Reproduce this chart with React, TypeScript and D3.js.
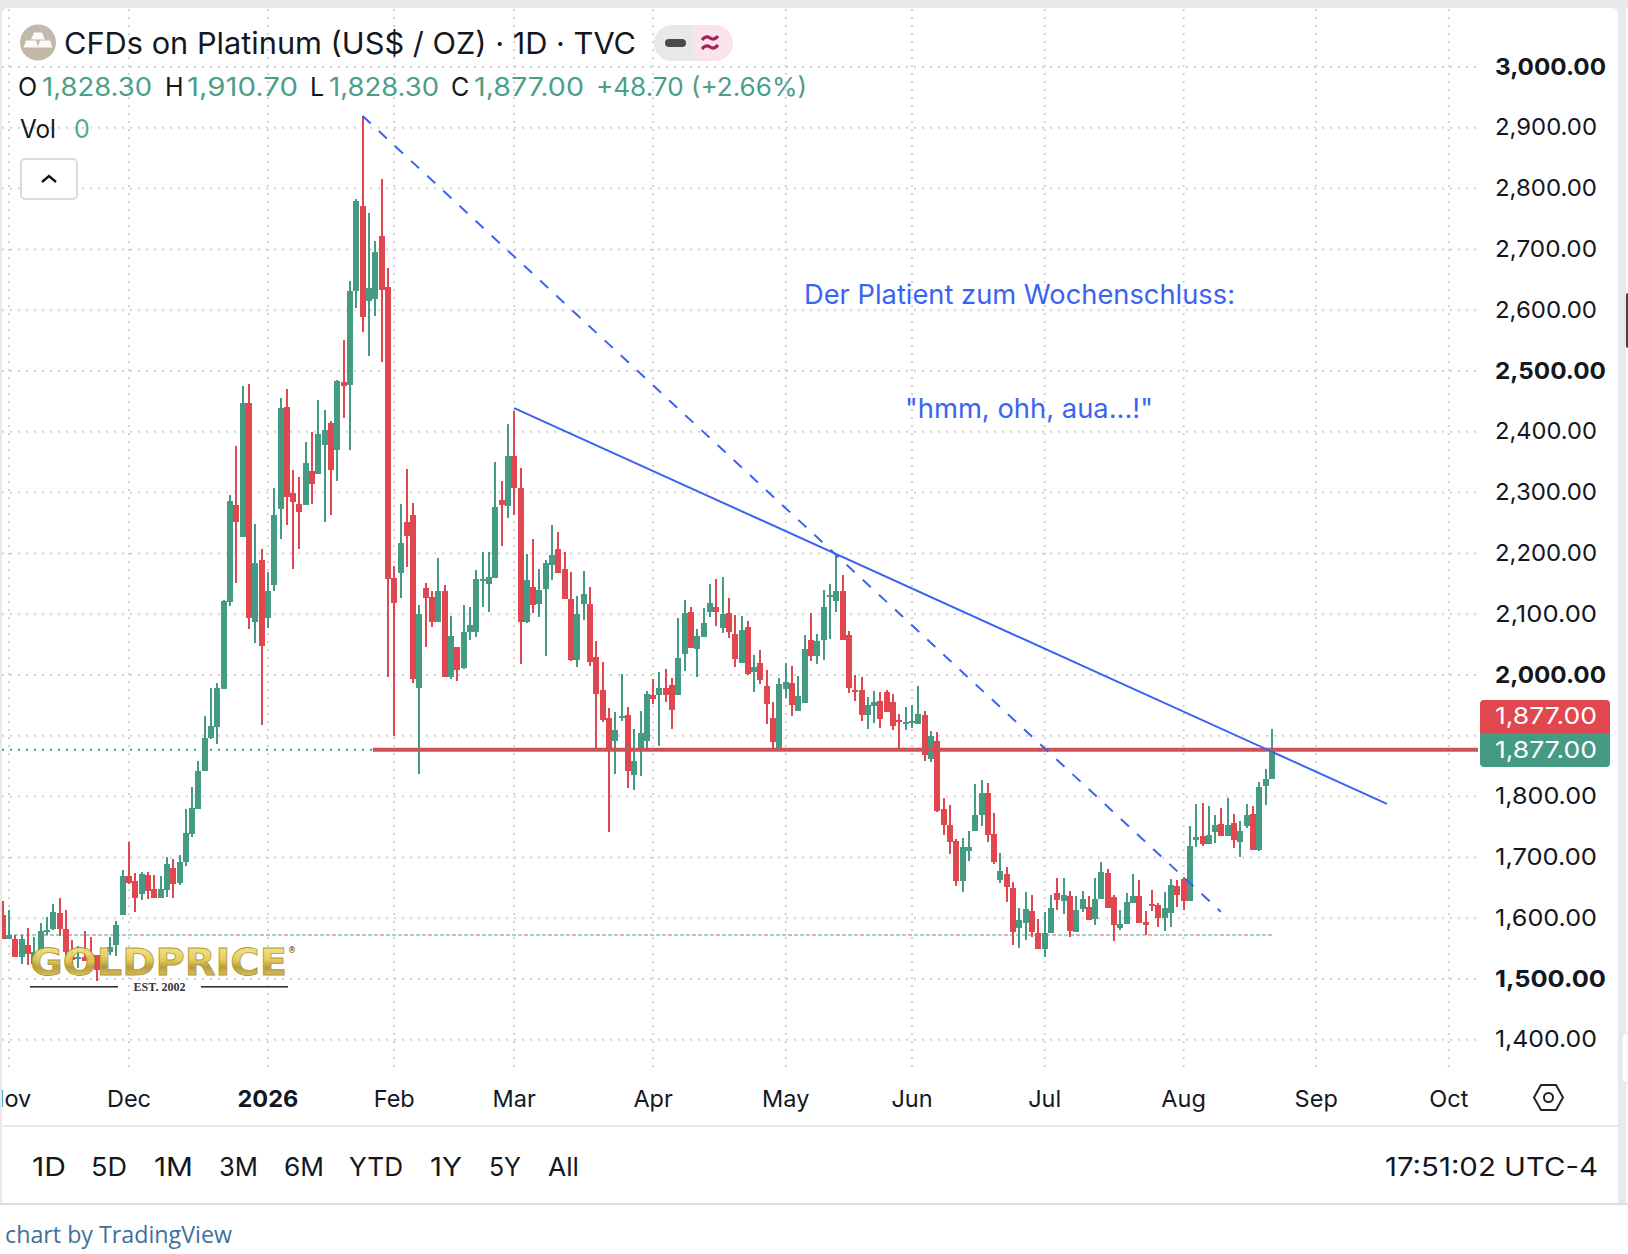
import React from "react";
import * as d3 from "d3";

const opens = [
  1605,1566,1566,1537,1556,1525,1548,1577,1582,1609,
  1582,1537,1534,1537,1540,1540,1520,1544,1556,1605,
  1669,1661,1640,1671,1648,1633,1646,1683,1658,1692,
  1738,1780,1842,1896,1915,1977,2120,2280,2227,2448,
  2087,2189,2093,2148,2273,2440,2300,2281,2280,2335,
  2331,2378,2415,2370,2482,2477,2631,2771,2615,2618,
  2722,2638,2160,2167,2252,2263,1979,2143,2128,2087,
  2138,1997,2046,2012,2071,2071,2155,2150,2160,2288,
  2278,2360,2308,2087,2145,2117,2141,2181,2207,2174,
  2125,2025,2117,2117,2030,1975,1929,1891,1929,1934,
  1836,1875,1891,1967,1967,1979,1984,1967,2035,2104,
  2043,2062,2104,2112,2077,2102,2067,2020,2079,2005,
  2020,1982,1929,1880,1977,1987,1941,1954,2058,2031,
  2058,2128,2122,2138,2066,1975,1975,1934,1949,1957,
  1972,1956,1926,1919,1922,1919,1934,1862,1891,1780,
  1753,1727,1661,1711,1743,1770,1806,1739,1663,1673,
  1650,1584,1592,1612,1576,1549,1576,1641,1628,1637,
  1577,1615,1618,1599,1632,1674,1635,1584,1590,1625,
  1637,1593,1623,1622,1600,1609,1653,1664,1628,1729,
  1735,1722,1742,1755,1735,1757,1725,1752,1771,1712,
  1818,1828.3,
];
const highs = [
  1628,1614,1572,1572,1584,1569,1592,1602,1623,1633,
  1614,1564,1554,1579,1569,1540,1548,1569,1595,1679,
  1725,1674,1676,1676,1671,1669,1701,1697,1704,1780,
  1816,1859,1933,1979,1987,2124,2296,2376,2475,2479,
  2248,2207,2169,2307,2456,2470,2337,2325,2383,2399,
  2452,2436,2418,2485,2551,2648,2783,2919,2760,2714,
  2816,2670,2179,2281,2339,2283,2115,2151,2138,2192,
  2148,2097,2046,2115,2112,2173,2202,2202,2350,2319,
  2413,2434,2340,2199,2224,2174,2189,2247,2235,2202,
  2169,2130,2171,2145,2056,2021,1946,1939,2002,1947,
  1911,1941,1974,1993,2005,2010,1995,2094,2123,2112,
  2076,2110,2150,2158,2161,2127,2099,2097,2089,2033,
  2041,2008,1956,1995,2020,2015,1998,2066,2102,2067,
  2140,2150,2197,2164,2072,2000,1997,1964,1974,1972,
  1975,1969,1936,1947,1951,1982,1941,1908,1906,1798,
  1786,1730,1732,1743,1821,1827,1822,1773,1707,1684,
  1660,1617,1643,1638,1599,1610,1638,1666,1666,1645,
  1637,1645,1637,1666,1692,1681,1638,1614,1641,1673,
  1663,1612,1646,1625,1643,1665,1663,1668,1752,1788,
  1790,1785,1770,1781,1798,1771,1760,1788,1785,1824,
  1845,1910.7,
];
const lows = [
  1566,1566,1537,1525,1523,1520,1542,1572,1581,1571,
  1537,1525,1518,1529,1531,1497,1515,1540,1538,1605,
  1657,1610,1630,1632,1633,1633,1635,1633,1655,1686,
  1734,1780,1842,1895,1887,1977,2113,2152,2227,2076,
  2053,1918,2078,2138,2224,2247,2174,2207,2280,2281,
  2331,2251,2263,2319,2423,2370,2604,2564,2525,2590,
  2515,1996,1900,2127,2178,1987,1837,2046,2079,2087,
  1997,1993,1990,2010,2058,2063,2112,2104,2160,2212,
  2258,2263,2018,2086,2102,2095,2031,2156,2167,2125,
  2023,2013,2090,2015,1877,1923,1742,1837,1924,1814,
  1811,1834,1877,1952,1883,1956,1911,1967,2007,2044,
  1997,2062,2095,2081,2069,2061,2013,2020,2000,1972,
  1985,1919,1877,1877,1962,1933,1941,1954,2023,2018,
  2025,2059,2104,2058,1970,1957,1924,1911,1921,1913,
  1939,1910,1879,1910,1913,1919,1859,1857,1775,1737,
  1706,1653,1643,1694,1743,1752,1725,1689,1658,1627,
  1556,1551,1564,1569,1549,1536,1576,1614,1607,1569,
  1577,1610,1597,1589,1632,1617,1562,1581,1590,1625,
  1592,1573,1612,1586,1579,1586,1618,1614,1628,1717,
  1719,1722,1724,1735,1735,1715,1701,1748,1712,1711,
  1786,1828.3,
];
const closes = [
  1566,1572,1537,1566,1541,1545,1579,1581,1610,1582,
  1545,1532,1537,1529,1531,1515,1537,1553,1589,1669,
  1658,1633,1673,1645,1633,1648,1689,1656,1692,1740,
  1781,1842,1896,1916,1979,2122,2286,2251,2448,2093,
  2184,2048,2138,2263,2439,2292,2284,2268,2349,2314,
  2396,2403,2337,2484,2476,2631,2779,2589,2636,2695,
  2634,2158,2119,2217,2229,1993,2100,2127,2087,2138,
  1997,2064,2008,2071,2082,2158,2158,2161,2276,2280,
  2360,2308,2087,2156,2115,2140,2184,2197,2167,2125,
  2025,2100,2133,2021,1969,1926,1877,1910,1933,1842,
  1859,1905,1969,1961,1979,1967,1942,2028,2102,2044,
  2064,2085,2118,2104,2100,2071,2026,2074,2002,2013,
  1992,1952,1890,1985,1989,1951,1965,2043,2031,2056,
  2112,2132,2138,2058,1979,1972,1934,1951,1956,1928,
  1939,1916,1923,1923,1924,1936,1868,1900,1776,1753,
  1725,1661,1717,1717,1770,1806,1737,1692,1678,1651,
  1577,1597,1615,1577,1549,1576,1617,1630,1638,1579,
  1614,1632,1597,1632,1676,1617,1589,1590,1627,1637,
  1592,1589,1620,1600,1617,1655,1638,1628,1719,1734,
  1722,1737,1753,1735,1753,1729,1743,1770,1712,1816,
  1829,1877,
];

const monthLabels = ["Nov", "Dec", "2026", "Feb", "Mar", "Apr", "May", "Jun", "Jul", "Aug", "Sep", "Oct"];
const monthIndex = [1, 20, 42, 62, 81, 103, 124, 144, 165, 187, 208, 229];
const monthBold = ["2026"];
const priceGrid = d3.range(1400, 3001, 100);
const priceLabels = [3000, 2900, 2800, 2700, 2600, 2500, 2400, 2300, 2200, 2100, 2000, 1800, 1700, 1600, 1500, 1400];
const priceBold = [3000, 2500, 2000, 1500];
const lastPrice = 1877;
const supportPrice = 1572.4;
const solidTrend = [[81, 2439], [219.2, 1788]];
const dashedTrend = [[57, 2919.4], [192.9, 1610.7]];
const ranges = ["1D", "5D", "1M", "3M", "6M", "YTD", "1Y", "5Y", "All"];
const rangeX = [32, 91, 154, 219, 284, 349, 430, 489, 548];
const rangeW = [34, 36, 39, 39, 40, 54, 32, 32, 31];

const UP = "#459A83";
const DOWN = "#E0474F";
const BLUE = "#3A63F2";
const GRID = "#D2D2D2";
const INK = "#131722";
const FONT = "Inter, 'Liberation Sans', sans-serif";

const x = d3.scaleLinear().domain([0, 201]).range([2.685, 1272]);
const y = d3.scaleLinear().domain([1500, 2000]).range([979, 675]);
const fmt = d3.format(",.2f");

function T(p: any) {
  const { x: tx, y: ty, w, size = 24, weight = 400, fill = INK, family = FONT, anchor, children } = p;
  return (
    <text x={tx} y={ty} fontSize={size} fontWeight={weight} fill={fill} fontFamily={family} textAnchor={anchor}
      {...(w ? { textLength: w, lengthAdjust: "spacingAndGlyphs" } : {})}>{children}</text>
  );
}

const line = d3.line<number[]>().x((d) => x(d[0])).y((d) => y(d[1]));

export default function App() {
  return (
    <svg width={1628} height={1254} viewBox="0 0 1628 1254"
      style={{ position: "absolute", left: 0, top: 0, display: "block", background: "#fff" }}>
      <defs>
        <linearGradient id="gold" x1="0" y1="0" x2="0" y2="1">
          <stop offset="0" stopColor="#FBF09A" />
          <stop offset="0.45" stopColor="#E3C94F" />
          <stop offset="0.62" stopColor="#B3952F" />
          <stop offset="1" stopColor="#F3E27A" />
        </linearGradient>
        <clipPath id="plot"><rect x={2} y={9} width={1476} height={1116} /></clipPath>
        <clipPath id="axisClip"><rect x={2} y={1070} width={1480} height={50} /></clipPath>
      </defs>

      {/* frame */}
      <rect x={0} y={0} width={1628} height={8} fill="#E9E9E9" />
      <rect x={0} y={0} width={2} height={1204} fill="#E9E9E9" />
      <rect x={1618} y={0} width={8} height={1204} fill="#E9E9E9" />
      <rect x={2} y={1125} width={1616} height={2} fill="#EAEAEA" />
      <rect x={0} y={1203} width={1628} height={2} fill="#DEDEDE" />
      <path d="M2,8 h6 a6,6 0 0 0 -6,6 z" fill="#E9E9E9" />
      <path d="M1618,8 h-6 a6,6 0 0 1 6,6 z" fill="#E9E9E9" />
      <rect x={1626} y={293} width={4} height={55} rx={2} fill="#444" />
      <rect x={1622} y={1033} width={10} height={50} rx={4} fill="#fff" stroke="#E4E4E4" />

      {/* grid */}
      <g stroke={GRID} strokeWidth={2} strokeDasharray="2 6">
        {priceGrid.map((p) => <line key={p} x1={2} x2={1478} y1={y(p)} y2={y(p)} />)}
        {monthIndex.map((m) => <line key={m} x1={x(m)} x2={x(m)} y1={9} y2={1067} />)}
      </g>

      {/* support price lines under the candles */}
      <line x1={2} x2={x(201) + 2} y1={y(supportPrice)} y2={y(supportPrice)} stroke="#EBA9A9" strokeWidth={2} strokeDasharray="4 2" />
      <line x1={2} x2={x(201) + 2} y1={y(supportPrice)} y2={y(supportPrice)} stroke="#9FD3CB" strokeWidth={2} strokeDasharray="4 2 4 2 4 8" />

      {/* candles */}
      <g clipPath="url(#plot)" shapeRendering="crispEdges">
        {opens.map((o, i) => {
          const c = closes[i];
          const col = c >= o ? UP : DOWN;
          const cx = Math.round(x(i));
          const top = y(Math.max(o, c));
          const h = Math.max(2, y(Math.min(o, c)) - top);
          return (
            <g key={i} fill={col}>
              <rect x={cx - 1} width={2} y={y(highs[i])} height={Math.max(1, y(lows[i]) - y(highs[i]))} />
              <rect x={cx - 3} width={6} y={top} height={h} />
            </g>
          );
        })}
      </g>

      {/* drawings */}
      <line x1={373} x2={1478} y1={y(lastPrice)} y2={y(lastPrice)} stroke={DOWN} strokeWidth={4} />
      <line x1={2} x2={1478} y1={y(lastPrice)} y2={y(lastPrice)} stroke={UP} strokeWidth={2} strokeDasharray="2 6" />
      <path d={line(solidTrend) as string} stroke={BLUE} strokeWidth={2} fill="none" />
      <path d={line(dashedTrend) as string} stroke={BLUE} strokeWidth={2} fill="none" strokeDasharray="11 11" />
      <T x={804} y={304} w={431} size={27} fill={BLUE}>Der Platient zum Wochenschluss:</T>
      <T x={905} y={418} w={248} size={27} fill={BLUE}>"hmm, ohh, aua...!"</T>

      {/* logo */}
      <text x={30} y={975} fontFamily="'DejaVu Sans', sans-serif" fontWeight={700} fontSize={38} fill="url(#gold)" stroke="#A88F2C" strokeWidth={0.8}
        textLength={257} lengthAdjust="spacingAndGlyphs" opacity={0.92}>GOLDPRICE</text>
      <T x={292} y={953} size={8} anchor="middle" fill="#333" family="'DejaVu Sans', sans-serif">®</T>
      <rect x={30} y={986} width={88} height={1.6} fill="#333" />
      <rect x={201} y={986} width={87} height={1.6} fill="#333" />
      <T x={159.5} y={991} size={12} weight={700} anchor="middle" fill="#333" family="'Liberation Serif', serif">EST. 2002</T>

      {/* header */}
      <circle cx={38} cy={42.5} r={18} fill="#C2B9AB" />
      <path d="M34,31 h8 l3,7 h-14 z M26,39 h10 l2.5,7 h-15 z M40,39 h10 l2.5,7 h-15 z" fill="#fff" opacity={0.92} transform="translate(0,1.5)" />
      <T x={64} y={54} w={572} size={30}>CFDs on Platinum (US$ / OZ) · 1D · TVC</T>
      <path d="M693,25 h-21 a18,18 0 0 0 0,36 h21 z" fill="#E8E8E8" />
      <path d="M693,25 h22 a18,18 0 0 1 0,36 h-22 z" fill="#F9E4EA" />
      <rect x={665} y={39} width={21} height={8} rx={4} fill="#4A4A4A" />
      <path d="M702,40 q4,-5 8,-2 t8,-2 M702,49 q4,-5 8,-2 t8,-2" fill="none" stroke="#A6205F" strokeWidth={3} />

      <T x={18} y={96} size={25}>O</T>
      <T x={42} y={96} w={110} size={25} fill="#4B9E88">1,828.30</T>
      <T x={165} y={96} size={25}>H</T>
      <T x={187} y={96} w={111} size={25} fill="#4B9E88">1,910.70</T>
      <T x={310} y={96} size={25}>L</T>
      <T x={329} y={96} w={110} size={25} fill="#4B9E88">1,828.30</T>
      <T x={451} y={96} size={25}>C</T>
      <T x={474} y={96} w={110} size={25} fill="#4B9E88">1,877.00</T>
      <T x={596} y={96} w={211} size={25} fill="#4B9E88">+48.70 (+2.66%)</T>
      <T x={20} y={138} w={36} size={25}>Vol</T>
      <T x={74} y={138} size={25} fill="#53A99B">0</T>
      <rect x={21} y={159} width={56} height={40} rx={4} fill="#fff" stroke="#DADADA" strokeWidth={2} />
      <path d="M42,182 l7,-6 l7,6" fill="none" stroke="#111" strokeWidth={2.4} />

      {/* price axis */}
      {priceLabels.map((p) => {
        const bold = priceBold.includes(p);
        return (
          <T key={p} x={1495} y={y(p) + 7.5} w={bold ? 111 : 102} size={23.5} weight={bold ? 700 : 400}>{fmt(p)}</T>
        );
      })}
      <path d="M1480,733 v-29 a4,4 0 0 1 4,-4 h122 a4,4 0 0 1 4,4 v29 z" fill={DOWN} />
      <path d="M1480,733 h130 v30 a4,4 0 0 1 -4,4 h-122 a4,4 0 0 1 -4,-4 z" fill={UP} />
      <T x={1495} y={724} w={102} size={23.5} fill="#fff">{fmt(lastPrice)}</T>
      <T x={1495} y={758} w={102} size={23.5} fill="#fff">{fmt(lastPrice)}</T>

      {/* time axis */}
      <g clipPath="url(#axisClip)">
        {monthLabels.map((m, i) => (
          <T key={m} x={x(monthIndex[i])} y={1107} size={23.5} anchor="middle" weight={monthBold.includes(m) ? 700 : 400}>{m}</T>
        ))}
      </g>
      <path d="M1534,1097.5 l7,-12.5 h15 l7,12.5 l-7,12.5 h-15 z" fill="none" stroke="#222" strokeWidth={2} />
      <circle cx={1548.5} cy={1097.5} r={4.5} fill="none" stroke="#222" strokeWidth={2} />

      {/* toolbar */}
      {ranges.map((r, i) => (
        <T key={r} x={rangeX[i]} y={1176} w={rangeW[i]} size={26}>{r}</T>
      ))}
      <T x={1385} y={1176} w={213} size={26}>17:51:02 UTC-4</T>
      <T x={5} y={1243} w={227} size={24} fill="#41709A" family="'Open Sans', sans-serif">chart by TradingView</T>
    </svg>
  );
}
